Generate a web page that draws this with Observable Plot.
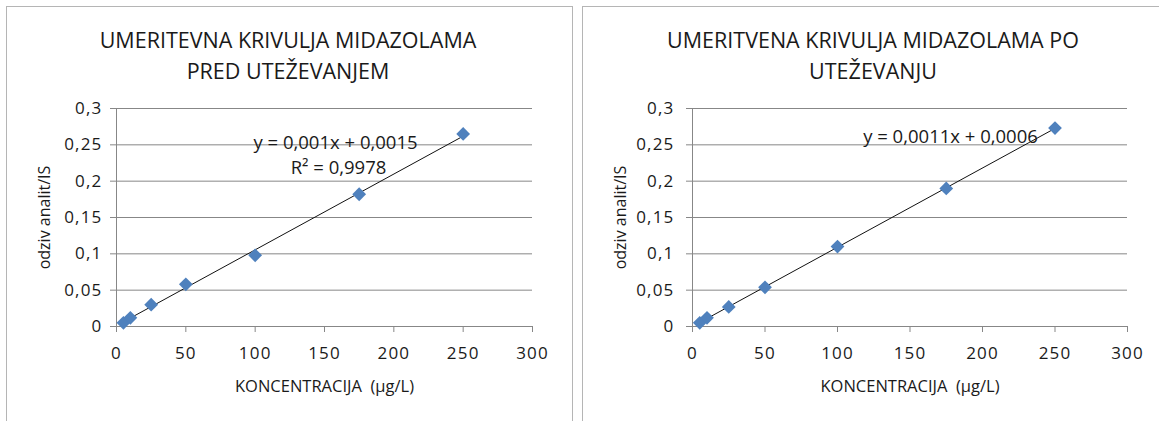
<!DOCTYPE html>
<html>
<head>
<meta charset="utf-8">
<script src="https://cdn.jsdelivr.net/npm/d3@7"></script>
<script src="https://cdn.jsdelivr.net/npm/@observablehq/plot@0.6"></script>
<style>
  html, body { margin: 0; padding: 0; background: #fff; }
  #root { position: relative; width: 1159px; height: 421px; overflow: hidden; font-family: "Open Sans", Lato, sans-serif; }
  .panel { position: absolute; border: 1px solid #b5b5b5; box-sizing: border-box; }
  .title { position: absolute; text-align: center; font-size: 21.5px; line-height: 31px; color: #1a1a1a; white-space: nowrap; transform: translateX(-50%); }
  .chart { position: absolute; }
  .chart g[aria-label="y-axis tick label"] text, .chart g[aria-label="x-axis tick label"] text { letter-spacing: 1.2px; }
</style>
</head>
<body>
<div id="root">
  <div class="panel" style="left:6px; top:6px; width:567px; height:440px;"></div>
  <div class="panel" style="left:582px; top:6px; width:600px; height:440px;"></div>
  <div class="title" style="left:288px; top:24px;">UMERITEVNA KRIVULJA MIDAZOLAMA<br>PRED UTEŽEVANJEM</div>
  <div class="title" style="left:873px; top:24px;">UMERITVENA KRIVULJA MIDAZOLAMA PO<br>UTEŽEVANJU</div>
  <div class="chart" id="c1" style="left:0px; top:90px;"></div>
  <div class="chart" id="c2" style="left:580px; top:90px;"></div>
</div>
<script>
// Data
const concentrations = [5, 10, 25, 50, 100, 175, 250];
const responseBefore = [0.005, 0.012, 0.030, 0.058, 0.098, 0.182, 0.265];
const responseAfter  = [0.005, 0.012, 0.027, 0.054, 0.110, 0.190, 0.273];
const xTicks = [0, 50, 100, 150, 200, 250, 300];
const yTicks = [0, 0.05, 0.1, 0.15, 0.2, 0.25, 0.3];
const yTickLabels = ["0", "0,05", "0,1", "0,15", "0,2", "0,25", "0,3"];
const xTitle = "KONCENTRACIJA  (µg/L)";
const yTitle = "odziv analit/IS";
const eqBefore = ["y = 0,001x + 0,0015", "R² = 0,9978"];
const eqAfter = ["y = 0,0011x + 0,0006"];

const gridColor = "#878787";
const textColor = "#1a1a1a";
const pointColor = "#4F81BD";

function makeChart(values, eqs, opts) {
  const data = concentrations.map((c, i) => ({x: c, y: values[i]}));
  const marks = [
    Plot.gridY(yTicks, {stroke: gridColor, strokeOpacity: 1}),
    Plot.ruleX([0], {y1: 0, y2: 0.3, stroke: gridColor}),
    Plot.axisX({ticks: xTicks, tickSize: 6, tickPadding: 14, stroke: gridColor, fill: textColor, fontSize: 17, label: null, tickFormat: d => String(d)}),
    Plot.axisY({ticks: yTicks, tickSize: 6, tickPadding: opts.yPad, stroke: gridColor, fill: textColor, fontSize: 17, label: null, tickFormat: d => yTickLabels[yTicks.indexOf(d)]}),
    Plot.text([xTitle], {frameAnchor: "bottom", dy: 60, lineAnchor: "middle", textAnchor: "middle", fill: textColor, fontSize: 16.5}),
    Plot.text([yTitle], {frameAnchor: "left", dx: -opts.yTitleOffset, rotate: -90, lineAnchor: "middle", textAnchor: "middle", fill: textColor, fontSize: 16}),
    Plot.linearRegressionY(data, {x: "x", y: "y", stroke: "#111", strokeWidth: 1, ci: 0}),
    Plot.dot(data, {x: "x", y: "y", symbol: "diamond2", r: 6.2, fill: pointColor, stroke: "none"}),
    ...eqs.map((t, i) => Plot.text([t], {frameAnchor: "top-left", dx: opts.eqDx[i], dy: opts.eqDy + i * 25, lineAnchor: "middle", textAnchor: "middle", fill: textColor, fontSize: 18.5}))
  ];
  return Plot.plot({
    width: opts.width,
    height: 310,
    marginLeft: opts.marginLeft,
    marginRight: opts.marginRight,
    marginTop: 18,
    marginBottom: 74,
    style: {fontFamily: "'Open Sans', Lato, sans-serif", background: "transparent", overflow: "visible"},
    x: {domain: [0, 300]},
    y: {domain: [0, 0.3]},
    marks
  });
}

document.getElementById("c1").appendChild(makeChart(responseBefore, eqBefore, {width: 580, marginLeft: 116, marginRight: 48, yPad: 8, yTitleOffset: 72, eqDx: [219, 222], eqDy: 35}));
document.getElementById("c2").appendChild(makeChart(responseAfter, eqAfter, {width: 579, marginLeft: 112, marginRight: 32, yPad: 12, yTitleOffset: 72, eqDx: [258], eqDy: 29}));
</script>
</body>
</html>
